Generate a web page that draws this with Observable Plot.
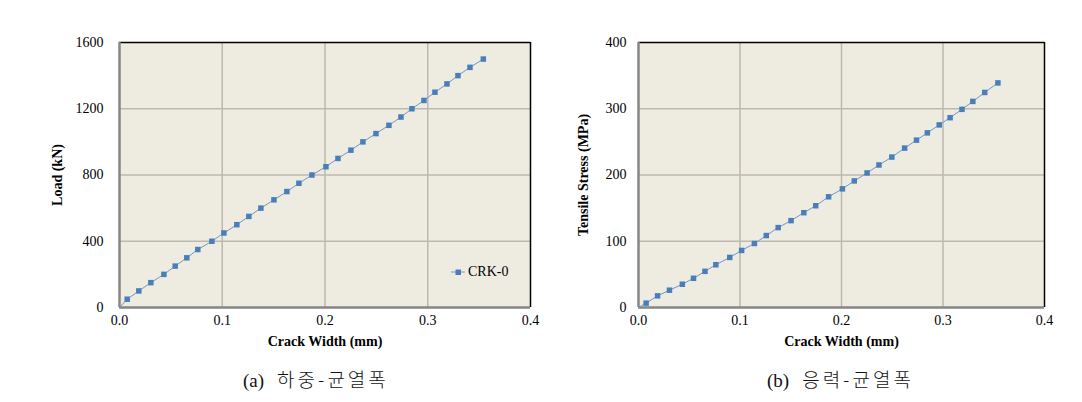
<!DOCTYPE html>
<html><head><meta charset="utf-8">
<script src="https://cdn.jsdelivr.net/npm/d3@7"></script>
<script src="https://cdn.jsdelivr.net/npm/@observablehq/plot@0.6"></script>
<style>
body{margin:0;background:#fff;}
#wrap{position:relative;width:1082px;height:402px;overflow:hidden;}
.chart{position:absolute;top:0;}
.cap{position:absolute;top:367px;font-size:19px;font-family:"Noto Sans CJK KR",sans-serif;font-weight:300;white-space:nowrap;line-height:24px;color:#111;letter-spacing:3px;}
.cap .l{font-family:"Liberation Serif",serif;font-size:19px;font-weight:400;letter-spacing:0;margin-right:13px;}
.legend{position:absolute;font:14px "Liberation Serif",serif;display:flex;align-items:center;color:#000;}
</style></head><body>
<div id="wrap">
  <div class="chart" id="c1" style="left:0"></div>
  <div class="chart" id="c2" style="left:541px"></div>
  <div class="cap" id="cap1" style="left:243px"></div>
  <div class="cap" id="cap2" style="left:767px"></div>
  <div class="legend" id="leg" style="left:450px;top:264px"></div>
</div>
<script>
// ---- data ----
const seriesName = "CRK-0";
const crackWidth = [0, 0.0075, 0.0188, 0.0305, 0.0432, 0.0542, 0.0655, 0.0762, 0.0899, 0.1016, 0.1142, 0.1259, 0.1376, 0.1503, 0.1629, 0.1746, 0.1873, 0.2009, 0.2126, 0.2252, 0.2369, 0.2496, 0.2622, 0.2739, 0.2846, 0.2963, 0.3070, 0.3187, 0.3294, 0.3411, 0.3541];
const load = [0, 50, 100, 150, 200, 250, 300, 350, 400, 450, 500, 550, 600, 650, 700, 750, 800, 850, 900, 950, 1000, 1050, 1100, 1150, 1200, 1250, 1300, 1350, 1400, 1450, 1500];
const stress = [0, 6.6, 17.6, 26.1, 35.1, 44.1, 54.6, 64.5, 75.6, 86.1, 96.6, 108.6, 120.6, 131.1, 143.1, 153.6, 167.1, 179.1, 191.1, 203.1, 215.1, 227.1, 240.6, 252.6, 263.6, 275.6, 286.5, 299.1, 311.1, 324.6, 339];
const xTicks = [0, 0.1, 0.2, 0.3, 0.4];
const loadTicks = [0, 400, 800, 1200, 1600];
const stressTicks = [0, 100, 200, 300, 400];
const xLabel = "Crack Width (mm)";
const loadLabel = "Load (kN)";
const stressLabel = "Tensile Stress (MPa)";
const captionA = ["(a)", "하중-균열폭"];
const captionB = ["(b)", "응력-균열폭"];

// ---- style ----
const bgColor = "#EEECE1";
const gridColor = "#bcb9b1";
const axisGray = "#868686";
const lineColor = "#7096cb";
const markerColor = "#4A7EBB";
const serif = "Liberation Serif, serif";

function chart({yTicks, yVals, yLabel, marginLeft, marginRight, tickPadding, labelOffset}) {
  const xDomain = [xTicks[0], xTicks[xTicks.length - 1]];
  const yDomain = [yTicks[0], yTicks[yTicks.length - 1]];
  const rows = crackWidth.map((w, i) => ({w, v: yVals[i]}));
  const svg = Plot.plot({
    width: 541, height: 360,
    marginLeft, marginRight, marginTop: 42, marginBottom: 53,
    style: {fontFamily: serif, fontSize: "14px", color: "#000", background: "transparent", overflow: "visible"},
    x: {domain: xDomain},
    y: {domain: yDomain},
    marks: [
      Plot.frame({fill: bgColor, stroke: null}),
      Plot.gridX(xTicks.slice(1, -1), {stroke: gridColor, strokeOpacity: 1, strokeWidth: 1.5}),
      Plot.gridY(yTicks.slice(1, -1), {stroke: gridColor, strokeOpacity: 1, strokeWidth: 1.5}),
      Plot.ruleY([yDomain[1]], {stroke: "#000", strokeWidth: 1.5}),
      Plot.ruleX([xDomain[1]], {stroke: "#000", strokeWidth: 1.5}),
      Plot.ruleX([xDomain[0]], {stroke: axisGray, strokeWidth: 2.5}),
      Plot.ruleY([yDomain[0]], {stroke: axisGray, strokeWidth: 2.5}),
      Plot.line(rows, {x: "w", y: "v", stroke: lineColor, strokeWidth: 1}),
      Plot.dot(rows.slice(1), {x: "w", y: "v", symbol: "square", r: 3.1, fill: markerColor, stroke: null}),
      Plot.axisX(xTicks, {tickSize: 0, tickPadding: 8, tickFormat: d3.format(".1f"), fontSize: 14, fontFamily: serif, label: xLabel, labelAnchor: "center", labelArrow: "none", labelOffset: 38}),
      Plot.axisY(yTicks, {tickSize: 0, tickPadding, tickFormat: d => String(d), fontSize: 14, fontFamily: serif, label: yLabel, labelAnchor: "center", labelArrow: "none", labelOffset})
    ]
  });
  d3.select(svg).selectAll('[aria-label="x-axis label"] text, [aria-label="y-axis label"] text')
    .attr("font-weight", "bold");
  return svg;
}

document.getElementById("c1").appendChild(chart({
  yTicks: loadTicks, yVals: load, yLabel: loadLabel,
  marginLeft: 119, marginRight: 11, tickPadding: 16, labelOffset: 67
}));
document.getElementById("c2").appendChild(chart({
  yTicks: stressTicks, yVals: stress, yLabel: stressLabel,
  marginLeft: 97, marginRight: 38, tickPadding: 12, labelOffset: 60
}));

for (const [id, cap] of [["cap1", captionA], ["cap2", captionB]]) {
  const el = document.getElementById(id);
  el.innerHTML = `<span class="l">${cap[0]}</span><span>${cap[1]}</span>`;
}

// legend
const leg = document.getElementById("leg");
leg.innerHTML = `<svg width="16" height="10" style="margin-right:2px"><line x1="1" x2="15" y1="5" y2="5" stroke="${lineColor}" stroke-width="1"/><rect x="5.5" y="2.5" width="5.5" height="5.5" fill="${markerColor}"/></svg><span>${seriesName}</span>`;
</script>
</body></html>
